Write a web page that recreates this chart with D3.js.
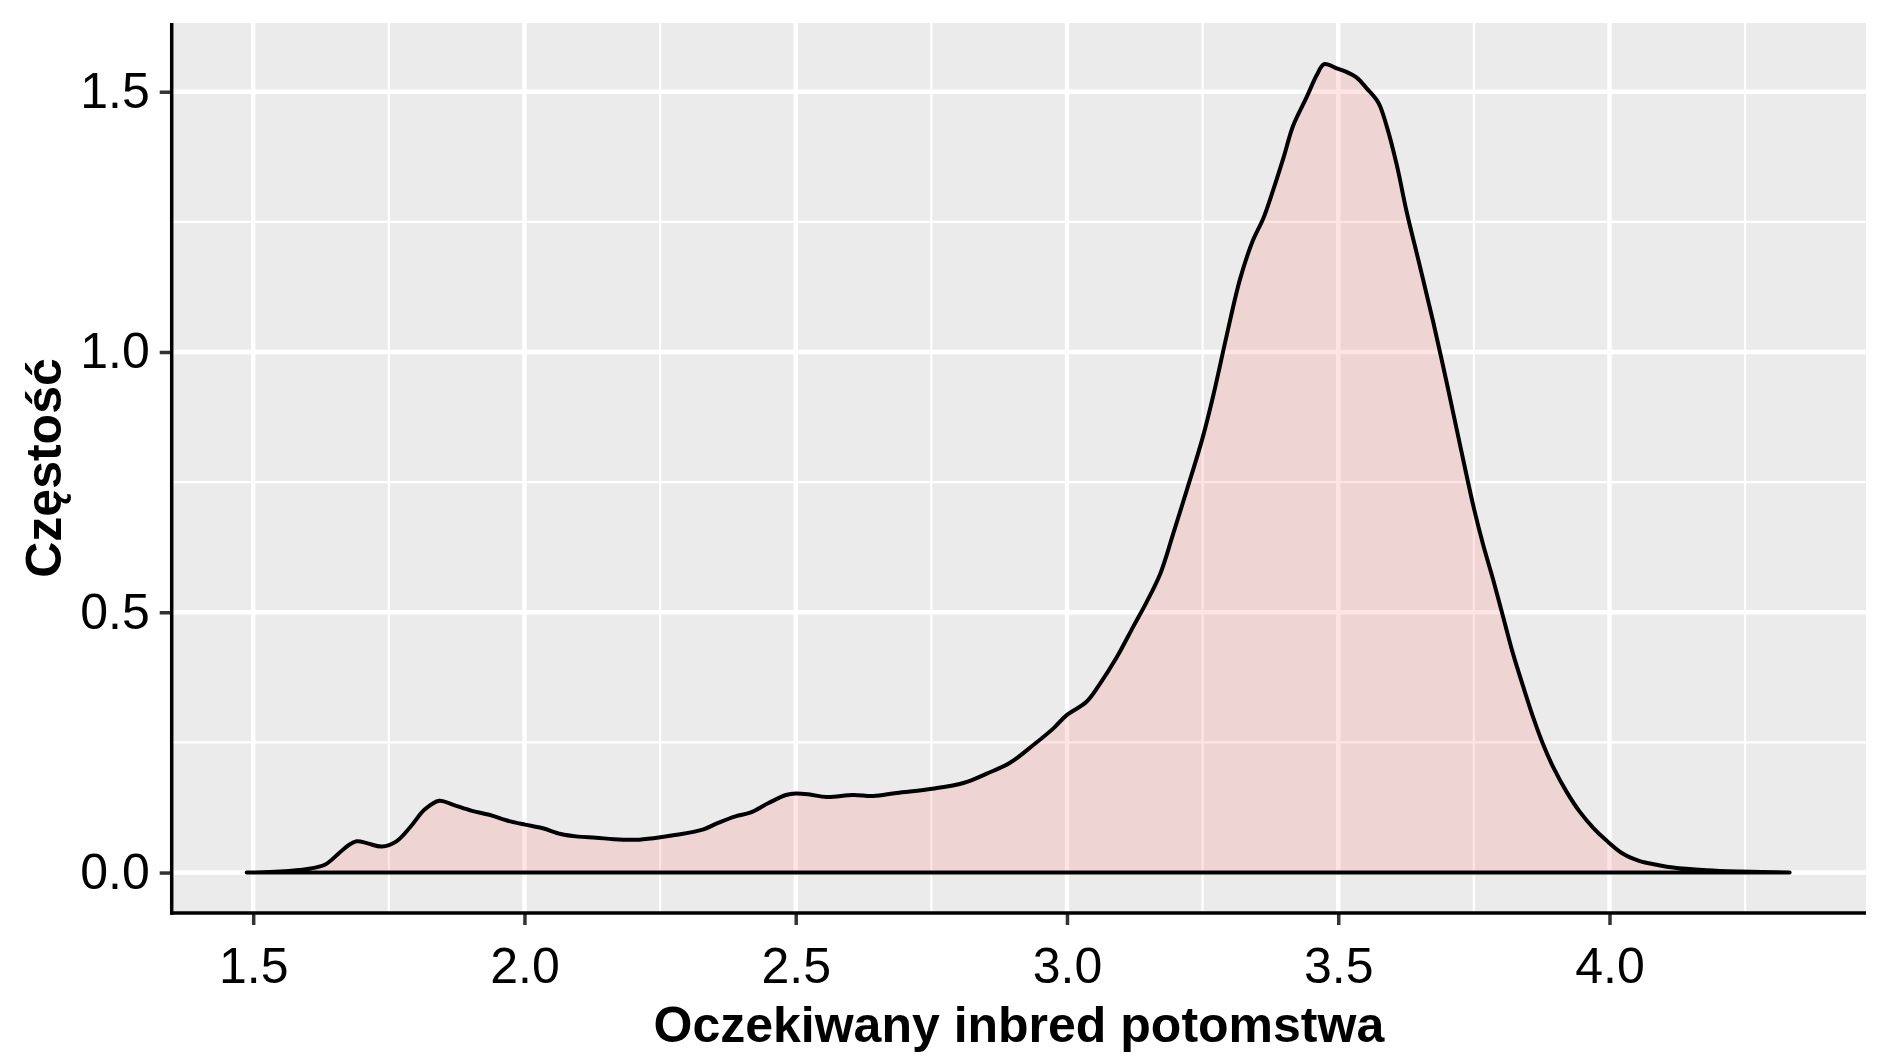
<!DOCTYPE html>
<html>
<head>
<meta charset="utf-8">
<script src="https://cdn.jsdelivr.net/npm/d3@7"></script>
<style>
  html, body { margin: 0; padding: 0; background: #fff; }
  svg { display: block; }
</style>
</head>
<body>
<svg id="chart" width="1889" height="1062"></svg>
<script>
// ---- data ----
const densX = [1.488, 1.55, 1.60, 1.632, 1.658, 1.675, 1.691, 1.711, 1.737, 1.764, 1.790, 1.816, 1.843, 1.869, 1.902, 1.935, 1.968, 2.001, 2.034, 2.067, 2.099, 2.132, 2.165, 2.205, 2.238, 2.277, 2.330, 2.356, 2.389, 2.416, 2.449, 2.482, 2.500, 2.526, 2.557, 2.606, 2.643, 2.686, 2.752, 2.809, 2.852, 2.895, 2.938, 2.975, 2.999, 3.036, 3.061, 3.092, 3.122, 3.147, 3.172, 3.195, 3.221, 3.250, 3.270, 3.294, 3.319, 3.343, 3.362, 3.380, 3.399, 3.417, 3.442, 3.460, 3.474, 3.497, 3.515, 3.534, 3.552, 3.574, 3.589, 3.608, 3.626, 3.650, 3.675, 3.700, 3.724, 3.750, 3.767, 3.786, 3.804, 3.822, 3.841, 3.859, 3.877, 3.896, 3.921, 3.945, 3.970, 3.994, 4.025, 4.056, 4.087, 4.117, 4.179, 4.240, 4.332];
const densY = [0, 0.002, 0.007, 0.015, 0.037, 0.052, 0.060, 0.056, 0.050, 0.060, 0.088, 0.121, 0.138, 0.130, 0.119, 0.111, 0.100, 0.092, 0.085, 0.074, 0.069, 0.067, 0.064, 0.063, 0.066, 0.072, 0.083, 0.095, 0.108, 0.115, 0.133, 0.149, 0.152, 0.150, 0.145, 0.149, 0.147, 0.153, 0.161, 0.172, 0.190, 0.211, 0.245, 0.277, 0.302, 0.328, 0.363, 0.414, 0.472, 0.520, 0.574, 0.648, 0.735, 0.835, 0.918, 1.030, 1.140, 1.215, 1.257, 1.311, 1.373, 1.435, 1.490, 1.531, 1.553, 1.545, 1.538, 1.527, 1.507, 1.479, 1.435, 1.359, 1.270, 1.167, 1.058, 0.941, 0.824, 0.700, 0.630, 0.561, 0.491, 0.421, 0.357, 0.299, 0.248, 0.203, 0.155, 0.117, 0.086, 0.062, 0.036, 0.022, 0.015, 0.0096, 0.0045, 0.002, 0];
const xMajor = [1.5, 2.0, 2.5, 3.0, 3.5, 4.0];
const xMinor = [1.75, 2.25, 2.75, 3.25, 3.75, 4.25];
const yMajor = [0.0, 0.5, 1.0, 1.5];
const yMinor = [0.25, 0.75, 1.25];
const xTitle = "Oczekiwany inbred potomstwa";
const yTitle = "Częstość";

// ---- layout ----
const P = { left: 171.7, right: 1866, top: 23, bottom: 913 };
const svg = d3.select("#chart");
const x = d3.scaleLinear().domain([1.3498, 4.4728]).range([P.left, P.right]);
const y = d3.scaleLinear().domain([-0.0777, 1.632]).range([P.bottom, P.top]);

const font = "'Liberation Sans', Arial, Helvetica, sans-serif";

// panel background
svg.append("rect")
  .attr("x", P.left).attr("y", P.top)
  .attr("width", P.right - P.left).attr("height", P.bottom - P.top)
  .attr("fill", "#EBEBEB");

const grid = svg.append("g");
// minor grid
grid.selectAll(".vmin").data(xMinor).join("line")
  .attr("x1", d => x(d)).attr("x2", d => x(d))
  .attr("y1", P.top).attr("y2", P.bottom)
  .attr("stroke", "#fff").attr("stroke-width", 2.2);
grid.selectAll(".hmin").data(yMinor).join("line")
  .attr("y1", d => y(d)).attr("y2", d => y(d))
  .attr("x1", P.left).attr("x2", P.right)
  .attr("stroke", "#fff").attr("stroke-width", 2.2);
// major grid
grid.selectAll(".vmaj").data(xMajor).join("line")
  .attr("x1", d => x(d)).attr("x2", d => x(d))
  .attr("y1", P.top).attr("y2", P.bottom)
  .attr("stroke", "#fff").attr("stroke-width", 4.4);
grid.selectAll(".hmaj").data(yMajor).join("line")
  .attr("y1", d => y(d)).attr("y2", d => y(d))
  .attr("x1", P.left).attr("x2", P.right)
  .attr("stroke", "#fff").attr("stroke-width", 4.4);

// density
const pts = densX.map((d, i) => [d, densY[i]]);
const area = d3.area()
  .x(d => x(d[0]))
  .y0(y(0))
  .y1(d => y(d[1]))
  .curve(d3.curveCatmullRom.alpha(0.5));
svg.append("path")
  .datum(pts)
  .attr("d", area)
  .attr("fill", "rgba(248,118,109,0.2)")
  .attr("stroke", "#000")
  .attr("stroke-width", 4)
  .attr("stroke-linejoin", "round")
  .attr("stroke-linecap", "round");

// axes
const xAxis = d3.axisBottom(x).tickValues(xMajor).tickSize(12).tickPadding(22)
  .tickFormat(d3.format(".1f"));
const gx = svg.append("g").attr("transform", `translate(0,${P.bottom})`).call(xAxis);
gx.select(".domain").remove();
gx.selectAll(".tick line").attr("stroke", "#333").attr("stroke-width", 3.5);
gx.selectAll(".tick text").attr("font-family", font).attr("font-size", 50).attr("fill", "#000");

const yAxis = d3.axisLeft(y).tickValues(yMajor).tickSize(12).tickPadding(10)
  .tickFormat(d3.format(".1f"));
const gy = svg.append("g").attr("transform", `translate(${P.left},0)`).call(yAxis);
gy.select(".domain").remove();
gy.selectAll(".tick line").attr("stroke", "#333").attr("stroke-width", 3.5);
gy.selectAll(".tick text").attr("font-family", font).attr("font-size", 50).attr("fill", "#000");

// axis lines
svg.append("line").attr("x1", P.left).attr("x2", P.left).attr("y1", P.top).attr("y2", P.bottom + 1.7)
  .attr("stroke", "#000").attr("stroke-width", 3.5);
svg.append("line").attr("x1", P.left - 1.7).attr("x2", P.right).attr("y1", P.bottom).attr("y2", P.bottom)
  .attr("stroke", "#000").attr("stroke-width", 3.5);

// titles
svg.append("text")
  .attr("x", (P.left + P.right) / 2).attr("y", 1042)
  .attr("text-anchor", "middle")
  .attr("font-family", font).attr("font-size", 50).attr("font-weight", "bold")
  .attr("fill", "#000")
  .text(xTitle);
svg.append("text")
  .attr("transform", `translate(61,${(P.top + P.bottom) / 2}) rotate(-90)`)
  .attr("text-anchor", "middle")
  .attr("font-family", font).attr("font-size", 50).attr("font-weight", "bold")
  .attr("fill", "#000")
  .text(yTitle);
</script>
</body>
</html>
